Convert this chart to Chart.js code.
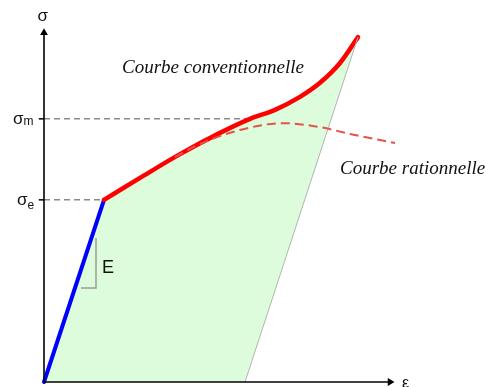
<!DOCTYPE html>
<html>
<head>
<meta charset="utf-8">
<script src="https://cdn.jsdelivr.net/npm/chart.js@4.4.1/dist/chart.umd.min.js"></script>
<style>
  body { margin: 0; background: #fff; }
</style>
</head>
<body>
<canvas id="traction" width="486" height="387"></canvas>
<script>
// domaine élastique
const elasticX = [0, 15];
const elasticY = [0, 50.6];
// courbe conventionnelle (trait plein rouge)
const convX = [15, 24, 34, 44, 51.5, 57.75, 64, 69, 74, 78.5];
const convY = [50.6, 56.7, 63.3, 69.2, 73.1, 75.6, 79.2, 83.1, 88.6, 95.8];
// courbe rationnelle (pointillés)
const ratX = [32.75, 39, 49, 59.75, 69, 76.5, 87.75];
const ratY = [62.5, 66.1, 70, 71.9, 70.8, 68.9, 66.4];
// décharge
const unloadX = [50.25, 78.5];
const unloadY = [0, 95.8];
// niveaux de contrainte
const sigmaE = 50.6;
const sigmaM = 73.1;
const epsM = 51.5;
const stressLabels = ["e", "m"];

function pts(xs, ys) {
    return xs.map((x, i) => ({ x: x, y: ys[i] }));
}

const labelsPlugin = {
    id: "labels",
    afterDatasetsDraw(chart) {
        const ctx = chart.ctx;
        const sx = chart.scales.x, sy = chart.scales.y;
        const px = v => sx.getPixelForValue(v);
        const py = v => sy.getPixelForValue(v);
        ctx.save();
        ctx.fillStyle = "#111";
        ctx.textBaseline = "alphabetic";
        ctx.textAlign = "left";

        ctx.font = "17px 'Liberation Sans', Arial, sans-serif";
        ctx.fillText("σ", px(-1.6), py(100.3));

        // σm et σe
        const levels = [sigmaE, sigmaM];
        const drops = [4, 1];
        const lefts = [-6.75, -7.75];
        levels.forEach((lv, i) => {
            const x0 = px(lefts[i]);
            const y0 = py(lv) + 5;
            ctx.font = "17px 'Liberation Sans', Arial, sans-serif";
            ctx.fillText("σ", x0, y0);
            const w = ctx.measureText("σ").width;
            ctx.font = "12px 'Liberation Sans', Arial, sans-serif";
            ctx.fillText(stressLabels[i], x0 + w, y0 + drops[i]);
        });

        ctx.font = "18px 'Liberation Sans', Arial, sans-serif";
        ctx.fillText("E", px(14.5), py(30.3));

        ctx.font = "16px 'Liberation Sans', Arial, sans-serif";
        ctx.fillText("ε", px(89.5), py(-1.6));

        ctx.font = "italic 19px 'Liberation Serif', 'Times New Roman', serif";
        ctx.fillText("Courbe conventionnelle", px(19.5), py(85.8));
        ctx.fillText("Courbe rationnelle", px(74), py(57.8));
        ctx.restore();
    }
};

new Chart(document.getElementById("traction"), {
    type: "scatter",
    data: {
        datasets: [
            {
                // axe ε
                data: [{ x: 0, y: 0 }, { x: 86.5, y: 0 }],
                showLine: true, borderColor: "#000", borderWidth: 1.6,
                pointRadius: [0, 4.5], pointStyle: "triangle", pointRotation: 90,
                pointBackgroundColor: "#000", pointBorderWidth: 0,
                order: 0
            },
            {
                // axe σ
                data: [{ x: 0, y: 0 }, { x: 0, y: 97 }],
                showLine: true, borderColor: "#000", borderWidth: 1.6,
                pointRadius: [0, 4.5], pointStyle: "triangle", pointRotation: 0,
                pointBackgroundColor: "#000", pointBorderWidth: 0,
                order: 0
            },
            {
                data: pts(elasticX, elasticY),
                showLine: true, borderColor: "#0000ff", borderWidth: 4,
                fill: "origin", backgroundColor: "#dcfcdc",
                pointRadius: 0, borderCapStyle: "round",
                order: 3
            },
            {
                data: pts(convX, convY),
                showLine: true, borderColor: "#ff0000", borderWidth: 4.5,
                fill: "origin", backgroundColor: "#dcfcdc",
                cubicInterpolationMode: "monotone",
                pointRadius: 0, borderCapStyle: "round",
                order: 2
            },
            {
                // raccord entre les deux remplissages
                data: [{ x: elasticX[1], y: 0 }, { x: elasticX[1], y: elasticY[1] }],
                showLine: true, borderColor: "#dcfcdc", borderWidth: 2,
                pointRadius: 0,
                order: 7
            },
            {
                data: pts(ratX, ratY),
                showLine: true, borderColor: "#e8504a", borderWidth: 2,
                borderDash: [9, 5],
                cubicInterpolationMode: "monotone",
                pointRadius: 0,
                order: 1
            },
            {
                data: pts(unloadX, unloadY),
                showLine: true, borderColor: "#b4b4b4", borderWidth: 1,
                fill: "origin", backgroundColor: "#ffffff",
                pointRadius: 0,
                order: 1.5
            },
            {
                data: [{ x: 0, y: sigmaE }, { x: elasticX[1], y: sigmaE }],
                showLine: true, borderColor: "#8a8a8a", borderWidth: 1.5,
                borderDash: [6, 4], pointRadius: 0,
                order: 5
            },
            {
                data: [{ x: 0, y: sigmaM }, { x: epsM, y: sigmaM }],
                showLine: true, borderColor: "#8a8a8a", borderWidth: 1.5,
                borderDash: [6, 4], pointRadius: 0,
                order: 5
            },
            {
                data: [{ x: -1.3, y: sigmaE }, { x: 0, y: sigmaE }],
                showLine: true, borderColor: "#000", borderWidth: 1.5, pointRadius: 0,
                order: 0
            },
            {
                data: [{ x: -1.3, y: sigmaM }, { x: 0, y: sigmaM }],
                showLine: true, borderColor: "#000", borderWidth: 1.5, pointRadius: 0,
                order: 0
            },
            {
                // triangle de pente E
                data: [{ x: 13, y: 40 }, { x: 13, y: 26.1 }, { x: 9.25, y: 26.1 }],
                showLine: true, borderColor: "#9a9a9a", borderWidth: 1.5, pointRadius: 0,
                order: 6
            }
        ]
    },
    options: {
        responsive: false,
        animation: false,
        layout: { padding: 0, autoPadding: false },
        elements: { line: { tension: 0 } },
        scales: {
            x: { type: "linear", display: false, min: -11, max: 110.5 },
            y: { type: "linear", display: false, min: -1.389, max: 106.111 }
        },
        plugins: {
            legend: { display: false },
            tooltip: { enabled: false },
            filler: { drawTime: "beforeDatasetsDraw" }
        }
    },
    plugins: [labelsPlugin]
});
</script>
</body>
</html>
